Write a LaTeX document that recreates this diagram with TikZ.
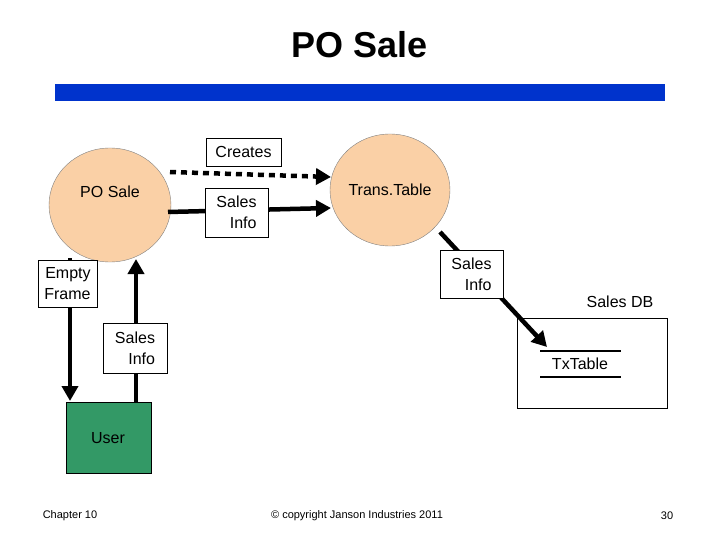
\documentclass[tikz,border=0pt]{standalone}
\usepackage{fontspec}
\setmainfont{Liberation Sans}
\usetikzlibrary{arrows.meta}
\definecolor{peach}{HTML}{FAD0A6}
\definecolor{barblue}{HTML}{0033CC}
\definecolor{usergreen}{HTML}{339966}
\begin{document}
\begin{tikzpicture}[x=1pt,y=-1pt,
  lbl/.style={draw=black,fill=white,font=\fontsize{16}{21}\selectfont,align=right,inner sep=3pt},
  txt/.style={font=\fontsize{16}{21}\selectfont},
  flow/.style={line width=4.5pt,-{Triangle[length=15pt,width=16pt]}},
  foot/.style={font=\fontsize{11}{13}\selectfont}]
\useasboundingbox (0,0) rectangle (720,540);
\node[font=\fontsize{36}{42}\selectfont\bfseries] (title) at (360,45) {PO Sale};
\fill[barblue] (55,84) rectangle (665,101);
\draw[gray,fill=peach] (110,205) ellipse [x radius=61,y radius=57];
\node[txt] (po) at (110,192) {PO Sale};
\draw[gray,fill=peach] (390,190) ellipse [x radius=60,y radius=56];
\node[txt] (tt) at (390,190) {Trans.Table};
\node[draw=black,fill=usergreen,minimum width=85pt,minimum height=71pt,anchor=north west] (user) at (66,402) {};
\node[txt] at (108,438) {User};
\draw (517,318) rectangle (667,408);
\node[txt] (db) at (620,302) {Sales DB};
\coordinate (t1) at (540,351); \coordinate (t2) at (621,351);
\coordinate (t3) at (540,377); \coordinate (t4) at (621,377);
\draw[line width=1.5pt] (t1) -- (t2); \draw[line width=1.5pt] (t3) -- (t4);
\node[txt] (tx) at (580,364) {TxTable};
% arrows
\coordinate (a1) at (170,172); \coordinate (a2) at (331,177);
\draw[flow,dash pattern=on 6pt off 5pt] (a1) -- (a2);
\coordinate (b1) at (168,212); \coordinate (b2) at (331,208);
\draw[flow] (b1) -- (b2);
\coordinate (c1) at (70,258); \coordinate (c2) at (70,401);
\draw[flow] (c1) -- (c2);
\coordinate (d1) at (136,402); \coordinate (d2) at (136,259);
\draw[flow] (d1) -- (d2);
\coordinate (e1) at (440,232); \coordinate (e2) at (547,347);
\draw[flow] (e1) -- (e2);
% labels
\node[lbl,minimum width=75pt,minimum height=28pt] (cr) at (243.5,152) {Creates};
\node[lbl,minimum width=63pt,minimum height=49pt] (si1) at (236.5,212.5) {Sales\\Info};
\node[lbl,minimum width=59pt,minimum height=47pt] (ef) at (67.5,283.5) {Empty\\Frame};
\node[lbl,minimum width=64pt,minimum height=50pt] (si2) at (135,348) {Sales\\Info};
\node[lbl,minimum width=63pt,minimum height=48pt] (si3) at (471.5,274) {Sales\\Info};
% footer
\node[foot] (ch) at (70,516) {Chapter 10};
\node[foot] (cp) at (357,516) {© copyright Janson Industries 2011};
\node[foot] (pg) at (667,516) {30};
\end{tikzpicture}
\end{document}
